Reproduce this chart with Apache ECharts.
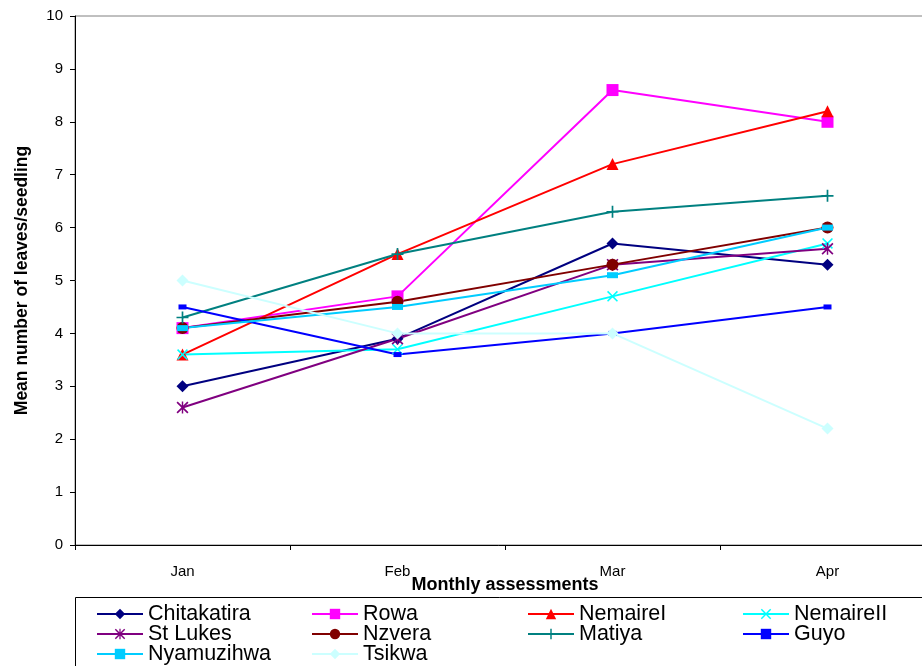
<!DOCTYPE html>
<html><head><meta charset="utf-8">
<script src="https://cdn.jsdelivr.net/npm/echarts@6/dist/echarts.min.js"></script>
<style>html,body{margin:0;padding:0;background:#fff}#c{width:922px;height:666px}</style>
</head><body><div id="c"></div>
<script>
const months = ['Jan','Feb','Mar','Apr'];
const yTicks = [0,1,2,3,4,5,6,7,8,9,10];
const chitakatira = [3.0, 3.9, 5.7, 5.3];
const rowa        = [4.1, 4.7, 8.6, 8.0];
const nemaireI    = [3.6, 5.5, 7.2, 8.2];
const nemaireII   = [3.6, 3.7, 4.7, 5.7];
const stLukes     = [2.6, 3.9, 5.3, 5.6];
const nzvera      = [4.1, 4.6, 5.3, 6.0];
const matiya      = [4.3, 5.5, 6.3, 6.6];
const guyo        = [4.5, 3.6, 4.0, 4.5];
const nyamuzihwa  = [4.1, 4.5, 5.1, 6.0];
const tsikwa      = [5.0, 4.0, 4.0, 2.2];

const PLUS = 'path://M4.3,0H5.7V4.3H10V5.7H5.7V10H4.3V5.7H0V4.3H4.3Z';
const XMARK = 'path://M1,0L5,4L9,0L10,1L6,5L10,9L9,10L5,6L1,10L0,9L4,5L0,1Z';
const STAR = 'path://M1,0L5,4L9,0L10,1L6,5L10,9L9,10L5,6L1,10L0,9L4,5L0,1Z M4.4,0H5.6V10H4.4Z';
const SMALLBAR = 'path://M0,0H8V5H0Z';
const WIDEBAR = 'path://M0,0H11V6H0Z';

const defs = [
  {name:'Chitakatira', data:chitakatira, color:'#000080', symbol:'diamond', size:12},
  {name:'Rowa', data:rowa, color:'#FF00FF', symbol:'rect', size:12},
  {name:'NemaireI', data:nemaireI, color:'#FF0000', symbol:'triangle', size:12},
  {name:'NemaireII', data:nemaireII, color:'#00FFFF', symbol:XMARK, size:11},
  {name:'St Lukes', data:stLukes, color:'#800080', symbol:STAR, size:12},
  {name:'Nzvera', data:nzvera, color:'#800000', symbol:'circle', size:12},
  {name:'Matiya', data:matiya, color:'#008080', symbol:PLUS, size:12},
  {name:'Guyo', data:guyo, color:'#0000FF', symbol:SMALLBAR, size:8, keep:true},
  {name:'Nyamuzihwa', data:nyamuzihwa, color:'#00CCFF', symbol:WIDEBAR, size:11, keep:true},
  {name:'Tsikwa', data:tsikwa, color:'#CCFFFF', symbol:'diamond', size:12}
];

const series = defs.map(d => ({
  name:d.name, type:'line', data:d.data, symbol:d.symbol, symbolSize:d.size,
  symbolKeepAspect:!!d.keep,
  showAllSymbol:true, animation:false,
  itemStyle:{color:d.color, borderWidth:0, opacity:1},
  lineStyle:{color:d.color, width:2}
}));

const legendFont = {fontFamily:'Liberation Sans, Arial', fontSize:21.5, lineHeight:20, color:'#000'};
const colLeft = [96, 311, 527, 742];
const rowTop = [603, 623, 643];
const legends = defs.map((d,k)=>({
  orient:'horizontal', left:colLeft[k % 4], top:rowTop[Math.floor(k / 4)],
  data:[d.name],
  itemWidth:46, itemHeight:13, itemGap:0, padding:0,
  textStyle:legendFont, selectedMode:false
}));

const chart = echarts.init(document.getElementById('c'), null, {renderer:'canvas'});
chart.setOption({
  backgroundColor:'#fff',
  animation:false,
  grid:{left:75, right:-13, top:16, bottom:121, outerBoundsMode:'none', containLabel:false,
    show:true, borderColor:'#808080', borderWidth:1},
  xAxis:{type:'category', data:months, boundaryGap:true,
    name:'Monthly assessments', nameLocation:'middle', nameGap:31, nameMoveOverlap:false,
    nameTextStyle:{fontFamily:'Liberation Sans, Arial', fontWeight:'bold', fontSize:18, color:'#000'},
    axisLine:{lineStyle:{color:'#000', width:1}},
    axisTick:{show:true, length:5, lineStyle:{color:'#000'}},
    axisLabel:{fontFamily:'Liberation Sans, Arial', fontSize:15, color:'#000', margin:19}
  },
  yAxis:{type:'value', min:0, max:10, interval:1,
    name:'Mean number of leaves/seedling', nameLocation:'middle', nameGap:44, nameMoveOverlap:false,
    nameTextStyle:{fontFamily:'Liberation Sans, Arial', fontWeight:'bold', fontSize:17.5, color:'#000'},
    axisLine:{show:true, lineStyle:{color:'#000', width:1}},
    axisTick:{show:true, length:5, lineStyle:{color:'#000'}},
    splitLine:{show:false},
    axisLabel:{fontFamily:'Liberation Sans, Arial', fontSize:15, color:'#000', margin:12,
      formatter:v => yTicks.includes(v) ? String(v) : ''}
  },
  legend:legends,
  graphic:[{type:'rect', shape:{x:75.5, y:597.5, width:900, height:100},
    style:{fill:'none', stroke:'#000', lineWidth:1}, z:-1}],
  series:series
});
</script></body></html>
